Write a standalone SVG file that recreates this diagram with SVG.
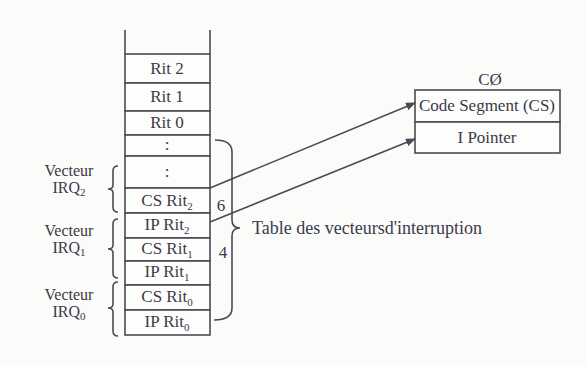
<svg xmlns="http://www.w3.org/2000/svg" width="586" height="365" viewBox="0 0 586 365">
<defs>
<style>
.ln{stroke:#4a4a55;stroke-width:1.6;fill:none}
.cell{fill:#fdfdfc;stroke:#4a4a55;stroke-width:1.6}
.t{font-family:"Liberation Serif","Times New Roman",serif;font-size:17px;fill:#3a3a48;text-anchor:middle}
.lb{font-family:"Liberation Serif","Times New Roman",serif;font-size:16px;fill:#3a3a48;text-anchor:middle}
.sub{font-size:11px}
</style>
<marker id="ah" markerWidth="10" markerHeight="8" refX="9" refY="4" orient="auto" markerUnits="userSpaceOnUse">
<path d="M0,0 L10,4 L0,8 Z" fill="#4a4a55"/>
</marker>
</defs>
<rect x="0" y="0" width="586" height="365" fill="#fbfbfa"/>

<g id="stack">
<line class="ln" x1="125" y1="30" x2="125" y2="54"/>
<line class="ln" x1="210" y1="30" x2="210" y2="54"/>
<g id="rit2"><rect class="cell" x="125" y="54" width="85" height="29"/><text class="t" x="167" y="74">Rit 2</text></g>
<g id="rit1"><rect class="cell" x="125" y="83" width="85" height="28"/><text class="t" x="167" y="102">Rit 1</text></g>
<g id="rit0"><rect class="cell" x="125" y="111" width="85" height="24"/><text class="t" x="167" y="128">Rit 0</text></g>
<g id="dots1"><rect class="cell" x="125" y="135" width="85" height="21"/><text class="t" x="167" y="150">:</text></g>
<g id="dots2"><rect class="cell" x="125" y="156" width="85" height="32"/><text class="t" x="167" y="177">:</text></g>
<g id="csrit2"><rect class="cell" x="125" y="188" width="85" height="25"/><text class="t" x="167" y="206">CS Rit<tspan class="sub" dy="4">2</tspan></text></g>
<g id="iprit2"><rect class="cell" x="125" y="213" width="85" height="25"/><text class="t" x="167" y="230">IP Rit<tspan class="sub" dy="4">2</tspan></text></g>
<g id="csrit1"><rect class="cell" x="125" y="238" width="85" height="23"/><text class="t" x="167" y="254">CS Rit<tspan class="sub" dy="4">1</tspan></text></g>
<g id="iprit1"><rect class="cell" x="125" y="261" width="85" height="24"/><text class="t" x="167" y="277">IP Rit<tspan class="sub" dy="4">1</tspan></text></g>
<g id="csrit0"><rect class="cell" x="125" y="285" width="85" height="25"/><text class="t" x="167" y="302">CS Rit<tspan class="sub" dy="4">0</tspan></text></g>
<g id="iprit0"><rect class="cell" x="125" y="310" width="85" height="25"/><text class="t" x="167" y="327">IP Rit<tspan class="sub" dy="4">0</tspan></text></g>
</g>

<g id="vecteurs">
<g id="irq2">
<path class="ln" d="M118,166 Q113,166 113,171 L113,185 Q113,189 108,189 Q113,189 113,193 L113,207 Q113,212 118,212"/>
<text class="lb" x="69" y="176">Vecteur</text>
<text class="lb" x="69" y="193">IRQ<tspan class="sub" dy="3">2</tspan></text>
</g>
<g id="irq1">
<path class="ln" d="M118,219 Q113,219 113,224 L113,245 Q113,249 108,249 Q113,249 113,253 L113,273 Q113,278 118,278"/>
<text class="lb" x="69" y="236">Vecteur</text>
<text class="lb" x="69" y="253">IRQ<tspan class="sub" dy="3">1</tspan></text>
</g>
<g id="irq0">
<path class="ln" d="M118,282 Q113,282 113,287 L113,304 Q113,308 108,308 Q113,308 113,312 L113,331 Q113,336 118,336"/>
<text class="lb" x="69" y="300">Vecteur</text>
<text class="lb" x="69" y="317">IRQ<tspan class="sub" dy="3">0</tspan></text>
</g>
</g>

<g id="table">
<path class="ln" d="M215,140 Q232,140 232,152 L232,220 Q232,228 240,228 Q232,228 232,236 L232,308 Q232,320 214,320"/>
<text class="t" x="221" y="211">6</text>
<text class="t" x="223" y="258">4</text>
<text class="t" x="252" y="234" style="text-anchor:start;font-size:18px">Table des vecteursd'interruption</text>
</g>

<g id="cs-box">
<text class="t" x="490" y="85">CØ</text>
<g id="code-segment"><rect class="cell" x="415" y="90" width="145" height="32"/><text class="t" x="487" y="111">Code Segment (CS)</text></g>
<g id="i-pointer"><rect class="cell" x="415" y="122" width="145" height="31"/><text class="t" x="487" y="143">I Pointer</text></g>
</g>

<g id="connectors">
<line class="ln" x1="210" y1="188" x2="415" y2="103" marker-end="url(#ah)"/>
<line class="ln" x1="210" y1="222" x2="415" y2="139" marker-end="url(#ah)"/>
</g>
</svg>
